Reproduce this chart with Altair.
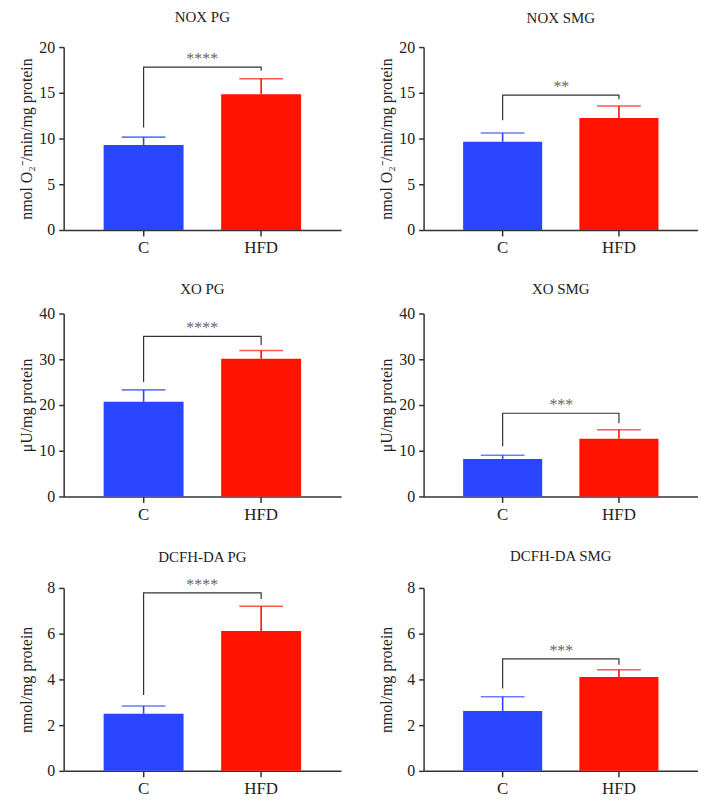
import altair as alt
import pandas as pd

panels = ["NOX PG", "NOX SMG", "XO PG", "XO SMG", "DCFH-DA PG", "DCFH-DA SMG"]
groups = ["C", "HFD"]
mean_c = [9.3, 9.65, 20.7, 8.2, 2.5, 2.62]
mean_hfd = [14.85, 12.25, 30.1, 12.6, 6.12, 4.11]
err_c = [0.85, 0.95, 2.6, 0.8, 0.34, 0.62]
err_hfd = [1.68, 1.3, 1.8, 2.0, 1.08, 0.31]
bracket_top = [17.8, 14.75, 35.0, 18.2, 7.78, 4.9]
bracket_left = [11.2, 12.0, 25.0, 11.0, 3.32, 3.6]
bracket_right = [17.4, 14.3, 33.1, 16.0, 7.52, 4.64]
stars = ["****", "**", "****", "***", "****", "***"]
y_max = [20, 20, 40, 40, 8, 8]
y_ticks = [[0, 5, 10, 15, 20], [0, 5, 10, 15, 20], [0, 10, 20, 30, 40],
           [0, 10, 20, 30, 40], [0, 2, 4, 6, 8], [0, 2, 4, 6, 8]]
y_titles = ["nmol O₂⁻/min/mg protein", "nmol O₂⁻/min/mg protein",
            "μU/mg protein", "μU/mg protein",
            "nmol/mg protein", "nmol/mg protein"]
title_offsets = [14, 13, 9, 9, 12, 16]
panel_widths = [279, 276]

BLUE = "#2A45FF"
RED = "#FF1200"
SERIF = "Liberation Serif"


def panel(i):
    df = pd.DataFrame({
        "group": groups,
        "mean": [mean_c[i], mean_hfd[i]],
        "upper": [mean_c[i] + err_c[i], mean_hfd[i] + err_hfd[i]],
    })
    xenc = alt.X("group:N", sort=groups,
                 scale=alt.Scale(domain=groups, paddingInner=0.32, paddingOuter=0.34),
                 axis=alt.Axis(title=None, labelAngle=0, tickSize=6, labelPadding=4,
                               labelFontSize=17))
    yscale = alt.Scale(domain=[0, y_max[i]], nice=False)
    yaxis = alt.Axis(values=y_ticks[i], title=y_titles[i], tickSize=5, labelPadding=4,
                     minExtent=25, maxExtent=25, titlePadding=4)

    def Y(field):
        return alt.Y(field, scale=yscale, axis=yaxis, title=y_titles[i])

    color = alt.Color("group:N", scale=alt.Scale(domain=groups, range=[BLUE, RED]), legend=None)

    bars = alt.Chart(df).mark_bar().encode(x=xenc, y=Y("mean:Q"), color=color)
    rule = alt.Chart(df).mark_rule(strokeWidth=1.6).encode(
        x=xenc, y=Y("mean:Q"), y2="upper:Q", color=color)
    cap = alt.Chart(df).mark_tick(size=44, thickness=1.6).encode(
        x=xenc, y=Y("upper:Q"), color=color)

    br = pd.DataFrame({
        "group": ["C", "C", "HFD", "HFD"],
        "v": [bracket_left[i], bracket_top[i], bracket_top[i], bracket_right[i]],
        "o": [0, 1, 2, 3],
    })
    line = alt.Chart(br).mark_line(color="#333333", strokeWidth=1.2).encode(
        x=xenc, y=Y("v:Q"), order="o:Q")

    st = pd.DataFrame({"group": ["C"], "v": [bracket_top[i]], "s": [stars[i]]})
    txt = alt.Chart(st).mark_text(dx=59, dy=-3, baseline="alphabetic", fontSize=16,
                                  font=SERIF, color="#666666").encode(
        x=xenc, y=Y("v:Q"), text="s:N")

    return alt.layer(bars, rule, cap, line, txt).properties(
        width=panel_widths[i % 2], height=184,
        title=alt.TitleParams(panels[i], fontSize=15, font=SERIF, fontWeight="normal",
                              color="#222222", offset=title_offsets[i]))


rows = [alt.hconcat(panel(2 * r), panel(2 * r + 1), spacing=38) for r in range(3)]
chart = alt.vconcat(alt.vconcat(rows[0], rows[1], spacing=26), rows[2], spacing=27).properties(
    padding={"left": 11, "top": 0, "right": 0, "bottom": 0}
).configure_view(stroke=None).configure_axis(
    grid=False, domainColor="#333333", domainWidth=1.5, tickColor="#333333", tickWidth=1.5,
    labelFont=SERIF, labelFontSize=16, labelColor="#222222",
    titleFont=SERIF, titleFontSize=16, titleFontWeight="normal", titleColor="#222222",
)

chart.save("out.html", embed_options={"renderer": "svg", "actions": False})
